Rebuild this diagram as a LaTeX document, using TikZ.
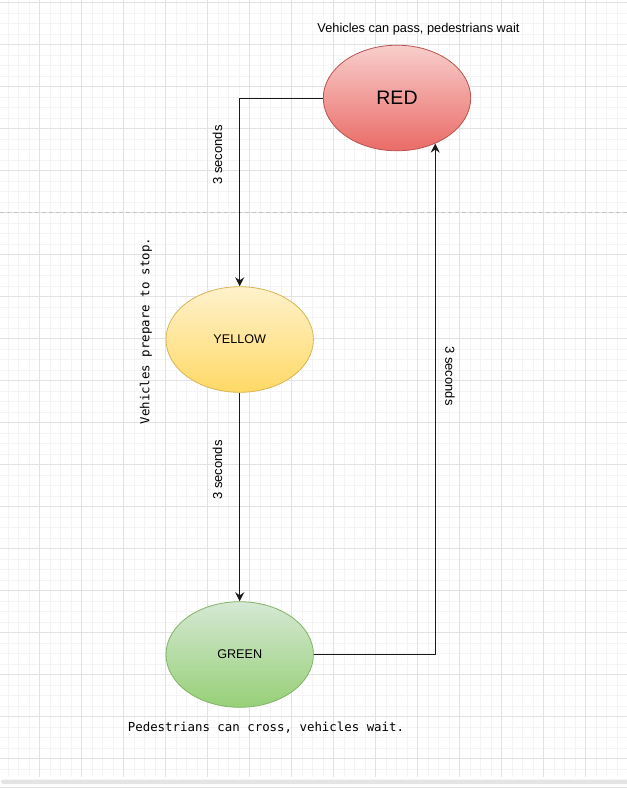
\documentclass[tikz,border=0pt]{standalone}
\usepackage{fontspec}
\setmainfont{Liberation Sans}
\newfontfamily\monof{DejaVu Sans Mono}
\usetikzlibrary{shapes.geometric,arrows.meta}
\definecolor{gridminor}{HTML}{F4F4F4}
\definecolor{gridmajor}{HTML}{E2E2E2}
\definecolor{redtop}{HTML}{F8CECC}
\definecolor{redbot}{HTML}{EA6B66}
\definecolor{redline}{HTML}{B85450}
\definecolor{yeltop}{HTML}{FFF2CC}
\definecolor{yelbot}{HTML}{FFD966}
\definecolor{yelline}{HTML}{D6B656}
\definecolor{grntop}{HTML}{D5E8D4}
\definecolor{grnbot}{HTML}{97D077}
\definecolor{grnline}{HTML}{82B366}
\definecolor{dashgray}{HTML}{C4C4C4}
\definecolor{bargray}{HTML}{E4E4E4}
\definecolor{edgecol}{HTML}{1A1A1A}
\tikzset{
  statebox/.style={ellipse, minimum width=147.4pt, minimum height=105.6pt, inner sep=0pt, line width=0.8pt},
  arr/.style={edgecol, line width=1pt, -{Stealth[length=9pt,width=9pt,inset=3pt]}},
  seclabel/.style={font=\fontsize{13}{15}\selectfont, inner sep=0pt},
  notelabel/.style={font=\monof\fontsize{12.4}{14}\selectfont, inner sep=0pt},
}
\begin{document}
\begin{tikzpicture}[x=1pt,y=-1pt]
\useasboundingbox (0,0) rectangle (627,788);
\fill[white] (0,0) rectangle (627,788);
% grid
\begin{scope}[line width=1pt]
\foreach \x in {-2.5,8,...,630} \draw[gridminor] (\x,0) -- (\x,777);
\foreach \y in {2.5,13,...,777} \draw[gridminor] (0,\y) -- (627,\y);
\foreach \x in {-2.5,39.5,...,630} \draw[gridmajor] (\x,0) -- (\x,777);
\foreach \y in {2.5,44.5,...,777} \draw[gridmajor] (0,\y) -- (627,\y);
\end{scope}
\draw[dashgray, line width=1pt, dash pattern=on 4pt off 3pt] (0,212.5) -- (627,212.5);
% bottom bar
\fill[white] (0,777) rectangle (627,788);
\fill[bargray, rounded corners=2.5pt] (1,779.5) rectangle (640,784);
\fill[bargray] (0,786.5) rectangle (627,788);
% states
\node[statebox, draw=redline, top color=redtop, bottom color=redbot, font=\fontsize{19.5}{22}\selectfont] (red) at (397,98) {RED};
\node[statebox, draw=yelline, top color=yeltop, bottom color=yelbot, font=\fontsize{12.6}{15}\selectfont] (yellow) at (239.7,339.5) {YELLOW};
\node[statebox, draw=grnline, top color=grntop, bottom color=grnbot, font=\fontsize{12.6}{15}\selectfont] (green) at (239.7,654.5) {GREEN};
% notes
\node[font=\fontsize{12.8}{15}\selectfont, inner sep=0pt] (rednote) at (418.5,29.5) {Vehicles can pass, pedestrians wait};
\node[notelabel, rotate=90] (yelnote) at (146,331) {Vehicles prepare to stop.};
\node[notelabel] (grnnote) at (266,727.5) {Pedestrians can cross, vehicles wait.};
% transitions
\draw[arr] (red.west) -| (yellow.north);
\draw[arr] (yellow.south) -- (green.north);
\draw[arr] (green.east) -| (red.-50);
\node[seclabel, rotate=90] (l1) at (217.5,155) {3 seconds};
\node[seclabel, rotate=90] (l2) at (217.5,470) {3 seconds};
\node[seclabel, rotate=-90] (l3) at (450,376) {3 seconds};
\end{tikzpicture}
\end{document}
